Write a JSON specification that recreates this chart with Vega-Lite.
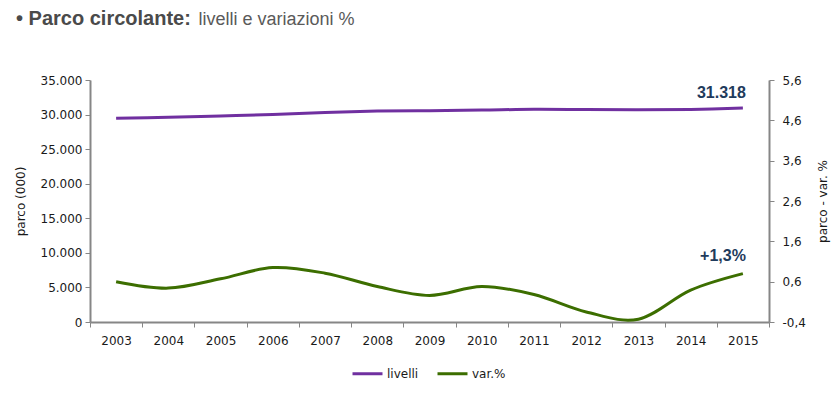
{
  "$schema": "https://vega.github.io/schema/vega-lite/v6.json",
  "width": 679,
  "height": 242,
  "autosize": {"type": "none"},
  "padding": {"left": 90, "top": 80, "right": 69, "bottom": 74},
  "background": "white",
  "title": {
    "text": "• Parco circolante:",
    "anchor": "start",
    "frame": "group",
    "dx": -74,
    "dy": 39,
    "offset": 4,
    "baseline": "alphabetic",
    "font": "Liberation Sans",
    "fontSize": 20,
    "fontWeight": "bold",
    "color": "#4a4a4a"
  },
  "config": {
    "view": {"stroke": null},
    "font": "DejaVu Sans",
    "axis": {
      "domainColor": "#868686",
      "domainWidth": 2,
      "tickColor": "#868686",
      "tickWidth": 1,
      "tickSize": 5,
      "grid": false,
      "labelFont": "DejaVu Sans",
      "labelFontSize": 12,
      "labelColor": "#1a1a1a",
      "labelOverlap": false,
      "titleFont": "DejaVu Sans",
      "titleFontSize": 12,
      "titleFontWeight": "normal",
      "titleColor": "#1a1a1a"
    }
  },
  "data": {
    "values": [
      {"anno": "2003", "livelli": 29460, "var": 0.60},
      {"anno": "2004", "livelli": 29600, "var": 0.44},
      {"anno": "2005", "livelli": 29800, "var": 0.67},
      {"anno": "2006", "livelli": 30000, "var": 0.95},
      {"anno": "2007", "livelli": 30300, "var": 0.81},
      {"anno": "2008", "livelli": 30500, "var": 0.48},
      {"anno": "2009", "livelli": 30560, "var": 0.26},
      {"anno": "2010", "livelli": 30650, "var": 0.48},
      {"anno": "2011", "livelli": 30760, "var": 0.28},
      {"anno": "2012", "livelli": 30720, "var": -0.15},
      {"anno": "2013", "livelli": 30680, "var": -0.33},
      {"anno": "2014", "livelli": 30750, "var": 0.39},
      {"anno": "2015", "livelli": 30950, "var": 0.80, "lab_l": "31.318", "lab_v": "+1,3%"}
    ]
  },
  "resolve": {"scale": {"y": "independent"}, "axis": {"x": "independent"}},
  "layer": [
    {
      "layer": [
        {
          "mark": {"type": "line", "interpolate": "cardinal", "strokeWidth": 3},
          "encoding": {
            "x": {
              "field": "anno", "type": "ordinal", "bandPosition": 0.5,
              "scale": {"type": "band", "paddingInner": 0, "paddingOuter": 0},
              "axis": {"orient": "bottom", "title": null, "tickBand": "extent", "labelAngle": 0, "labelPadding": 8}
            },
            "y": {
              "field": "livelli", "type": "quantitative",
              "scale": {"domain": [0, 35000], "nice": false, "zero": false},
              "axis": {
                "orient": "left",
                "title": "parco (000)",
                "values": [0, 5000, 10000, 15000, 20000, 25000, 30000, 35000],
                "labelExpr": "replace(format(datum.value, ','), ',', '.')",
                "labelOverlap": false,
                "labelPadding": 3,
                "titleX": -70,
                "titleY": 121,
                "titleAngle": -90,
                "titleAlign": "center",
                "titleBaseline": "middle"
              }
            },
            "color": {
              "datum": "livelli", "type": "nominal",
              "scale": {"domain": ["livelli", "var.%"], "range": ["#7030a0", "#3c6e00"]},
              "legend": {
                "orient": "none",
                "legendX": 261,
                "legendY": 277,
                "direction": "horizontal",
                "title": null,
                "symbolType": "stroke",
                "symbolSize": 900,
                "symbolStrokeWidth": 3,
                "labelFont": "DejaVu Sans",
                "labelFontSize": 12,
                "labelColor": "#1a1a1a",
                "labelOffset": 3,
                "columnPadding": 12
              }
            }
          }
        },
        {
          "transform": [{"filter": "datum.lab_l"}],
          "mark": {"type": "text", "font": "Liberation Sans", "fontSize": 16, "fontWeight": "bold", "color": "#1f3b5c", "align": "right", "baseline": "alphabetic", "dx": 3, "dy": -10},
          "encoding": {
            "x": {"field": "anno", "type": "ordinal", "bandPosition": 0.5},
            "y": {
              "field": "livelli", "type": "quantitative",
              "axis": {
                "orient": "left",
                "title": "parco (000)",
                "values": [0, 5000, 10000, 15000, 20000, 25000, 30000, 35000],
                "labelExpr": "replace(format(datum.value, ','), ',', '.')",
                "labelOverlap": false,
                "labelPadding": 3,
                "titleX": -70,
                "titleY": 121,
                "titleAngle": -90,
                "titleAlign": "center",
                "titleBaseline": "middle"
              }
            },
            "text": {"field": "lab_l"}
          }
        }
      ]
    },
    {
      "layer": [
        {
          "mark": {"type": "line", "interpolate": "cardinal", "strokeWidth": 3},
          "encoding": {
            "x": {
              "field": "anno", "type": "ordinal", "bandPosition": 0.5,
              "axis": {
                "orient": "top", "labels": false, "ticks": false, "domain": false,
                "title": "livelli e variazioni %",
                "titleX": 108, "titleY": -56, "titleAlign": "left", "titleBaseline": "alphabetic", "titleAngle": 0,
                "titleFont": "Liberation Sans", "titleFontSize": 18, "titleFontWeight": "normal", "titleColor": "#5a5a5a"
              }
            },
            "y": {
              "field": "var", "type": "quantitative",
              "scale": {"domain": [-0.4, 5.6], "nice": false, "zero": false},
              "axis": {
                "orient": "right",
                "title": "parco - var. %",
                "values": [-0.4, 0.6, 1.6, 2.6, 3.6, 4.6, 5.6],
                "labelExpr": "replace(replace(format(datum.value, '.1f'), '.', ','), '−', '-')",
                "labelPadding": 8,
                "titleX": 53,
                "titleY": 121,
                "titleAngle": -90,
                "titleAlign": "center",
                "titleBaseline": "middle"
              }
            },
            "color": {"datum": "var.%", "type": "nominal"}
          }
        },
        {
          "transform": [{"filter": "datum.lab_v"}],
          "mark": {"type": "text", "font": "Liberation Sans", "fontSize": 16, "fontWeight": "bold", "color": "#1f3b5c", "align": "right", "baseline": "alphabetic", "dx": 3, "dy": -13},
          "encoding": {
            "x": {"field": "anno", "type": "ordinal", "bandPosition": 0.5},
            "y": {"field": "var", "type": "quantitative"},
            "text": {"field": "lab_v"}
          }
        }
      ]
    }
  ]
}
